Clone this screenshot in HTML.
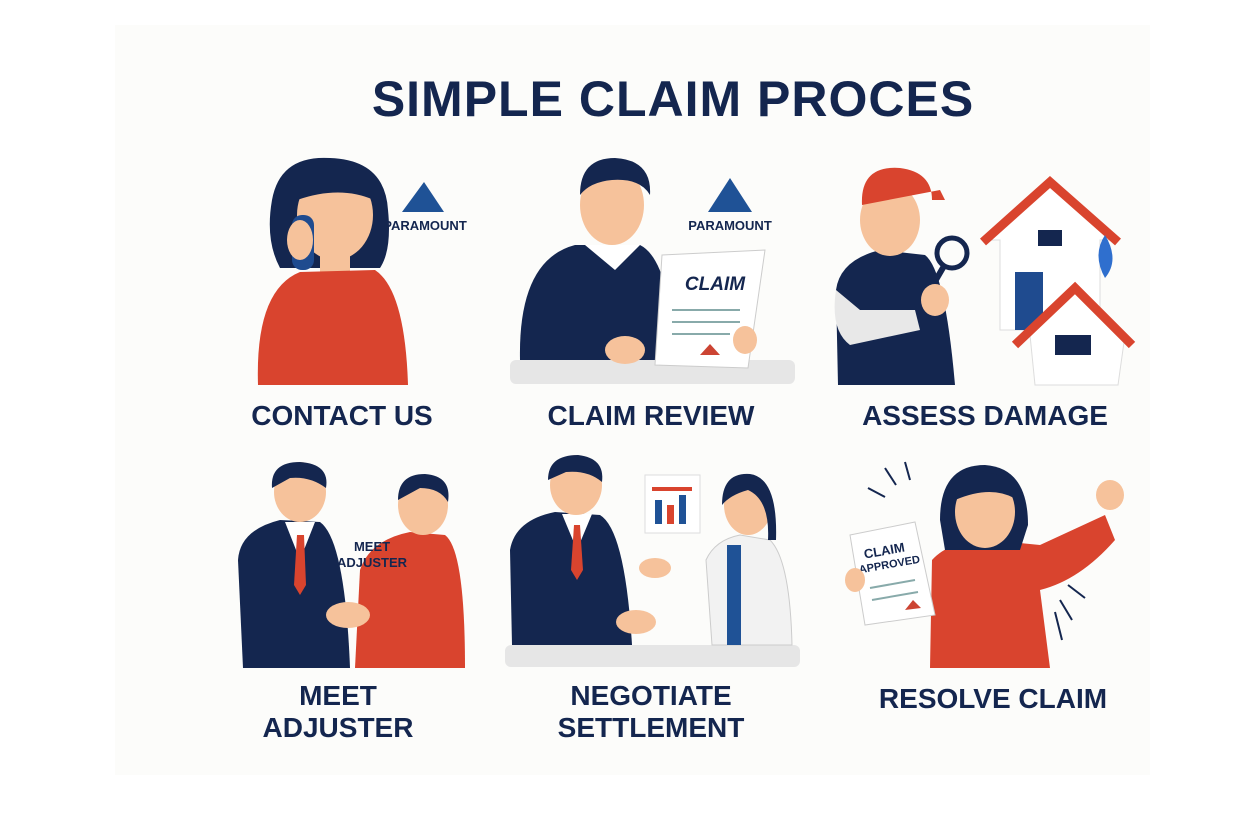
<!DOCTYPE html>
<html><head><meta charset="utf-8"><style>
html,body{margin:0;padding:0;background:#fff;width:1240px;height:827px;overflow:hidden}
svg{display:block}
text{font-family:"Liberation Sans",Arial,sans-serif;font-weight:bold;fill:#14264f}
</style></head><body>
<svg width="1240" height="827" viewBox="0 0 1240 827">
<rect x="115" y="25" width="1035" height="750" fill="#fcfcfa"/>
<text x="673" y="116" font-size="50" text-anchor="middle" letter-spacing="1">SIMPLE CLAIM PROCES</text>

<!-- Panel 1: Contact us -->
<path d="M272 200 Q280 155 330 158 Q385 160 388 210 Q392 250 380 268 L280 268 Q265 240 272 200Z" fill="#14264f"/>
<ellipse cx="335" cy="215" rx="38" ry="45" fill="#f6c29b"/>
<path d="M297 200 Q305 165 340 165 Q372 168 374 200 Q340 185 297 200Z" fill="#14264f"/>
<rect x="320" y="255" width="30" height="20" fill="#f6c29b"/>
<path d="M258 385 Q255 290 300 272 L375 270 Q405 290 408 385Z" fill="#d9442e"/>
<rect x="292" y="215" width="22" height="55" rx="10" fill="#1f4b8f"/>
<ellipse cx="300" cy="240" rx="13" ry="20" fill="#f6c29b"/>
<polygon points="402,212 424,182 444,212" fill="#1f5296"/>
<text x="425" y="230" font-size="13" text-anchor="middle" font-weight="normal">PARAMOUNT</text>
<text x="342" y="425" font-size="28" text-anchor="middle">CONTACT US</text>

<!-- Panel 2: Claim review -->
<rect x="510" y="360" width="285" height="24" rx="6" fill="#e6e6e6"/>
<path d="M520 360 Q518 260 575 245 L640 245 Q670 260 675 360Z" fill="#14264f"/>
<polygon points="585,245 615,270 640,245" fill="#fff"/>
<ellipse cx="612" cy="205" rx="32" ry="40" fill="#f6c29b"/>
<path d="M580 195 Q580 158 615 158 Q652 160 650 195 Q640 178 612 180 Q590 182 580 195Z" fill="#14264f"/>
<polygon points="662,255 765,250 748,368 655,365" fill="#fff" stroke="#ccc"/>
<text x="715" y="290" font-size="19" text-anchor="middle" font-style="italic">CLAIM</text>
<line x1="672" y1="310" x2="740" y2="310" stroke="#8aa" stroke-width="2"/>
<line x1="672" y1="322" x2="740" y2="322" stroke="#8aa" stroke-width="2"/>
<line x1="672" y1="334" x2="730" y2="334" stroke="#8aa" stroke-width="2"/>
<polygon points="700,355 710,344 720,355" fill="#c43"/>
<ellipse cx="625" cy="350" rx="20" ry="14" fill="#f6c29b"/>
<ellipse cx="745" cy="340" rx="12" ry="14" fill="#f6c29b"/>
<polygon points="708,212 730,178 752,212" fill="#1f5296"/>
<text x="730" y="230" font-size="13" text-anchor="middle" font-weight="normal">PARAMOUNT</text>
<text x="651" y="425" font-size="28" text-anchor="middle">CLAIM REVIEW</text>

<!-- Panel 3: Assess damage -->
<path d="M838 385 L836 290 Q840 260 880 250 L925 255 Q945 270 955 385Z" fill="#14264f"/>
<path d="M836 290 Q830 330 850 345 L920 330 L915 310 L860 310Z" fill="#e8e8e8"/>
<ellipse cx="890" cy="220" rx="30" ry="36" fill="#f6c29b"/>
<path d="M862 205 Q860 165 900 168 Q932 172 932 200 L945 200 L940 190Z" fill="#d9442e"/>
<circle cx="952" cy="253" r="15" fill="none" stroke="#14264f" stroke-width="5"/>
<line x1="944" y1="266" x2="930" y2="290" stroke="#14264f" stroke-width="6"/>
<ellipse cx="935" cy="300" rx="14" ry="16" fill="#f6c29b"/>
<polygon points="985,240 1050,180 1115,240 1100,240 1100,330 1000,330 1000,240" fill="#fff" stroke="#ddd"/>
<polyline points="983,242 1050,182 1118,242" fill="none" stroke="#d9442e" stroke-width="9"/>
<rect x="1038" y="230" width="24" height="16" fill="#14264f"/>
<rect x="1015" y="272" width="28" height="58" fill="#1f4b8f"/>
<path d="M1105 235 Q1092 255 1105 278 Q1120 260 1105 235Z" fill="#2f6fce"/>
<polygon points="1030,335 1075,290 1125,335 1118,385 1035,385" fill="#fff" stroke="#ddd"/>
<polyline points="1015,345 1075,288 1132,345" fill="none" stroke="#d9442e" stroke-width="9"/>
<rect x="1055" y="335" width="36" height="20" fill="#14264f"/>
<text x="985" y="425" font-size="28" text-anchor="middle">ASSESS DAMAGE</text>

<!-- Panel 4: Meet adjuster -->
<path d="M243 668 L238 560 Q240 530 280 520 L320 522 Q345 540 350 668Z" fill="#14264f"/>
<polygon points="285,522 300,560 315,522" fill="#fff"/>
<polygon points="297,535 304,535 306,585 300,595 294,585" fill="#d9442e"/>
<ellipse cx="300" cy="492" rx="26" ry="30" fill="#f6c29b"/>
<path d="M272 488 Q270 462 300 462 Q330 464 326 488 Q310 476 290 478Z" fill="#14264f"/>
<path d="M355 668 L360 570 Q370 540 410 532 L445 535 Q465 550 465 668Z" fill="#d9442e"/>
<ellipse cx="423" cy="505" rx="25" ry="30" fill="#f6c29b"/>
<path d="M398 500 Q398 474 425 474 Q452 476 448 502 Q440 488 420 488Z" fill="#14264f"/>
<ellipse cx="348" cy="615" rx="22" ry="13" fill="#f6c29b"/>
<text x="372" y="551" font-size="13" text-anchor="middle">MEET</text>
<text x="372" y="567" font-size="13" text-anchor="middle">ADJUSTER</text>
<text x="338" y="705" font-size="28" text-anchor="middle">MEET</text>
<text x="338" y="737" font-size="28" text-anchor="middle">ADJUSTER</text>

<!-- Panel 5: Negotiate -->
<rect x="505" y="645" width="295" height="22" rx="6" fill="#e6e6e6"/>
<path d="M512 645 L510 550 Q515 520 555 512 L600 515 Q625 530 632 645Z" fill="#14264f"/>
<polygon points="562,514 577,550 592,514" fill="#fff"/>
<polygon points="574,525 580,525 583,570 577,580 571,570" fill="#d9442e"/>
<ellipse cx="576" cy="485" rx="26" ry="30" fill="#f6c29b"/>
<path d="M548 480 Q548 455 578 455 Q605 458 602 482 Q588 470 566 472Z" fill="#14264f"/>
<ellipse cx="655" cy="568" rx="16" ry="10" fill="#f6c29b"/>
<path d="M712 645 L706 560 Q715 540 740 535 L770 540 Q790 560 792 645Z" fill="#f2f2f2" stroke="#ccc"/>
<rect x="727" y="545" width="14" height="100" fill="#1f5296"/>
<ellipse cx="748" cy="505" rx="24" ry="30" fill="#f6c29b"/>
<path d="M722 505 Q722 472 750 474 Q778 478 776 540 L768 540 Q770 500 748 490 Q730 495 722 505Z" fill="#14264f"/>
<ellipse cx="636" cy="622" rx="20" ry="12" fill="#f6c29b"/>
<rect x="645" y="475" width="55" height="58" fill="#fff" stroke="#ddd"/>
<rect x="652" y="487" width="40" height="4" fill="#d9442e"/>
<rect x="655" y="500" width="7" height="24" fill="#1f5296"/>
<rect x="667" y="505" width="7" height="19" fill="#d9442e"/>
<rect x="679" y="495" width="7" height="29" fill="#1f5296"/>
<text x="651" y="705" font-size="28" text-anchor="middle">NEGOTIATE</text>
<text x="651" y="737" font-size="28" text-anchor="middle">SETTLEMENT</text>

<!-- Panel 6: Resolve -->
<path d="M930 668 L932 560 Q950 540 990 540 L1040 545 L1105 515 L1115 540 Q1080 580 1040 590 L1050 668Z" fill="#d9442e"/>
<path d="M940 520 Q940 465 985 465 Q1028 468 1028 525 L1020 550 L945 550Z" fill="#14264f"/>
<ellipse cx="985" cy="512" rx="30" ry="36" fill="#f6c29b"/>
<path d="M955 500 Q955 470 985 472 Q1015 476 1014 498 Q990 485 955 500Z" fill="#14264f"/>
<ellipse cx="1110" cy="495" rx="14" ry="15" fill="#f6c29b"/>
<polygon points="850,535 915,522 935,615 865,625" fill="#fff" stroke="#ccc"/>
<text x="885" y="555" font-size="13" text-anchor="middle" transform="rotate(-10 885 555)">CLAIM</text>
<text x="890" y="568" font-size="11" text-anchor="middle" transform="rotate(-10 890 568)">APPROVED</text>
<line x1="870" y1="588" x2="915" y2="580" stroke="#8aa" stroke-width="2"/>
<line x1="872" y1="600" x2="918" y2="592" stroke="#8aa" stroke-width="2"/>
<polygon points="905,610 913,600 921,608" fill="#c43"/>
<ellipse cx="855" cy="580" rx="10" ry="12" fill="#f6c29b"/>
<g stroke="#14264f" stroke-width="2">
<line x1="868" y1="488" x2="885" y2="497"/><line x1="885" y1="468" x2="896" y2="485"/><line x1="905" y1="462" x2="910" y2="480"/>
<line x1="1068" y1="585" x2="1085" y2="598"/><line x1="1060" y1="600" x2="1072" y2="620"/><line x1="1055" y1="612" x2="1062" y2="640"/>
</g>
<text x="993" y="708" font-size="28" text-anchor="middle">RESOLVE CLAIM</text>
</svg>
</body></html>
